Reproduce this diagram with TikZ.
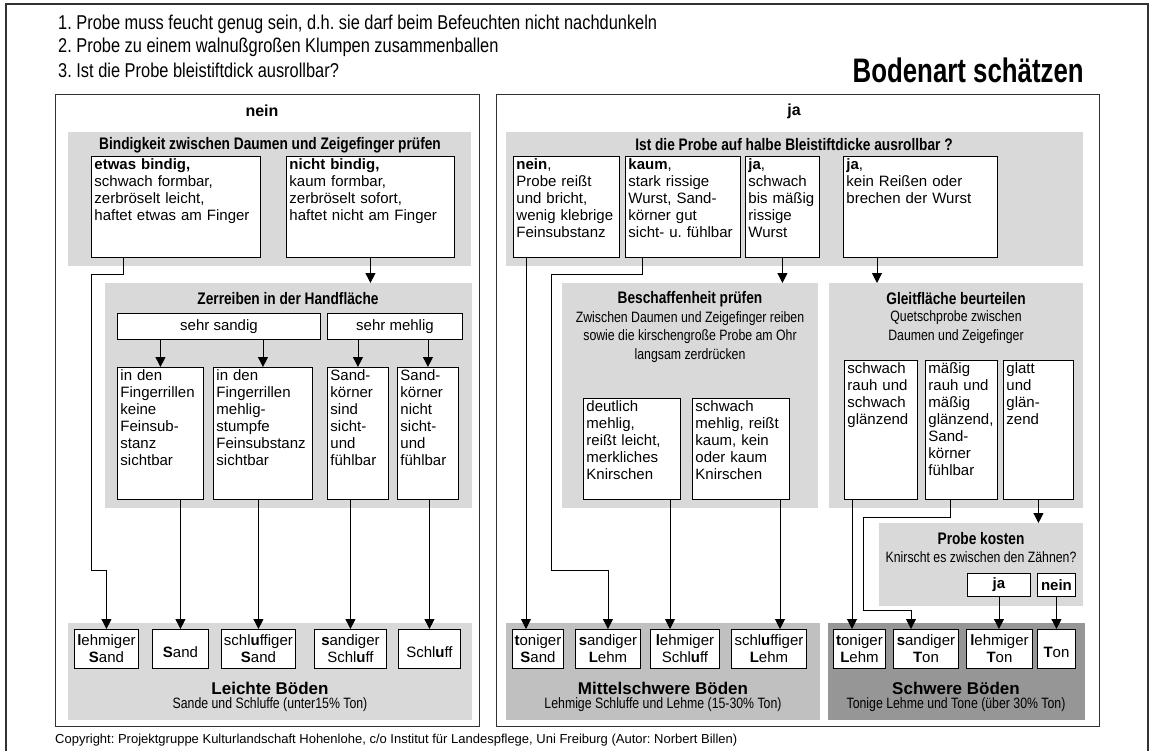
\documentclass[tikz,border=0pt]{standalone}
\usepackage{fontspec}
\setmainfont{Liberation Sans}
\newfontfamily\narrowfont[FakeStretch=0.82]{Liberation Sans}
\newfontfamily\titlefont[FakeStretch=0.76]{Liberation Sans}
\usetikzlibrary{arrows.meta}
\definecolor{bglight}{RGB}{217,217,217}
\definecolor{bgmid}{RGB}{192,192,192}
\definecolor{bgdark}{RGB}{150,150,150}
\definecolor{framegray}{RGB}{50,50,50}

\begin{document}
\frenchspacing
\begin{tikzpicture}[x=1pt, y=-1pt,
  panel/.style={draw=framegray, line width=1.3pt, anchor=north west, inner sep=0pt},
  field/.style={fill=#1, anchor=north west, inner sep=0pt},
  field/.default=bglight,
  tbox/.style={draw, fill=white, line width=0.9pt, anchor=north west, align=left, inner xsep=3pt, inner ysep=2pt, text height=11.5pt, font=\fontsize{15}{17}\selectfont},
  soil/.style={draw, fill=white, line width=0.9pt, anchor=north west, align=center, inner sep=0pt, minimum height=39pt, font=\fontsize{15}{17}\selectfont},
  jnbox/.style={draw, fill=white, line width=0.9pt, anchor=north west, inner sep=0pt, minimum height=26pt, font=\fontsize{15}{17}\selectfont},
  hdtxt/.style={font=\narrowfont\bfseries\fontsize{16.7}{19}\selectfont},
  subtxt/.style={align=center, font=\narrowfont\fontsize{15}{18.5}\selectfont},
  grptitle/.style={font=\bfseries\fontsize{17}{20}\selectfont},
  arr/.style={-{Triangle[width=10pt,length=10pt]}, line width=0.9pt}
]
\useasboundingbox (0,0) rectangle (1153,751);
% Frame and instructions
\draw[framegray, line width=1.3pt] (6,751) -- (6,4) -- (1148,4) -- (1148,751);
\node[anchor=west, inner sep=0pt, font=\narrowfont\fontsize{20}{23}\selectfont] (step1) at (58,24) {1. Probe muss feucht genug sein, d.h. sie darf beim Befeuchten nicht nachdunkeln};
\node[anchor=west, inner sep=0pt, font=\narrowfont\fontsize{20}{23}\selectfont] (step2) at (58,47) {2. Probe zu einem walnußgroßen Klumpen zusammenballen};
\node[anchor=west, inner sep=0pt, font=\narrowfont\fontsize{20}{23}\selectfont] (step3) at (58,70) {3. Ist die Probe bleistiftdick ausrollbar?};
\node[anchor=east, inner sep=0pt, font=\titlefont\bfseries\fontsize{34}{40}\selectfont] (title) at (1084,70) {Bodenart schätzen};

% Panels
\node[panel, minimum width=424pt, minimum height=632pt] (pnlNein) at (55,94) {};
\node[panel, minimum width=603pt, minimum height=632pt] (pnlJa) at (496,94) {};
\node[font=\bfseries\fontsize{16}{18}\selectfont] (hdNein) at (262,111) {nein};
\node[font=\bfseries\fontsize{16}{18}\selectfont] (hdJa) at (794,111) {ja};

% Left: Bindigkeit
\node[field, minimum width=403pt, minimum height=134pt] (bind) at (68,132) {};
\node[hdtxt] (bindT) at (270,145) {Bindigkeit zwischen Daumen und Zeigefinger prüfen};
\node[tbox, text width=163pt, text depth=85.5pt] (etwas) at (91,156) {\textbf{etwas bindig,}\\schwach formbar,\\zerbröselt leicht,\\haftet etwas am Finger};
\node[tbox, text width=162pt, text depth=85.5pt] (nicht) at (286,156) {\textbf{nicht bindig,}\\kaum formbar,\\zerbröselt sofort,\\haftet nicht am Finger};

% Left: Zerreiben
\node[field, minimum width=367pt, minimum height=225pt] (zerr) at (105,283) {};
\node[hdtxt] (zerrT) at (288,299) {Zerreiben in der Handfläche};
\node[jnbox, minimum width=203pt] (sandig) at (117,313) {sehr sandig};
\node[jnbox, minimum width=135pt] (mehlig) at (327,313) {sehr mehlig};
\node[tbox, text width=80pt, text depth=116.5pt] (fk) at (117,367) {in den\\Fingerrillen\\keine\\Feinsub-\\stanz\\sichtbar};
\node[tbox, text width=93pt, text depth=116.5pt] (fm) at (213,367) {in den\\Fingerrillen\\mehlig-\\stumpfe\\Feinsubstanz\\sichtbar};
\node[tbox, text width=55pt, text depth=116.5pt] (sks) at (327,367) {Sand-\\körner\\sind\\sicht-\\und\\fühlbar};
\node[tbox, text width=55pt, text depth=116.5pt] (skn) at (397,367) {Sand-\\körner\\nicht\\sicht-\\und\\fühlbar};

% Left: Leichte Boeden
\node[field, minimum width=404pt, minimum height=97pt] (leicht) at (68,623) {};
\node[soil, minimum width=64pt] (lehmSand) at (74,629) {\textbf{l}ehmiger\\\textbf{S}and};
\node[soil, minimum width=56pt] (sand) at (152,629) {~\\\textbf{S}and};
\node[soil, minimum width=74pt] (schlSand) at (221,629) {schl\textbf{u}ffiger\\\textbf{S}and};
\node[soil, minimum width=72pt] (sandSchl) at (314,629) {\textbf{s}andiger\\Schl\textbf{u}ff};
\node[soil, minimum width=62pt] (schluff) at (398,629) {~\\Schl\textbf{u}ff};
\node[grptitle] (leichtT) at (270,688) {Leichte Böden};
\node[subtxt] (leichtS) at (270,705) {Sande und Schluffe (unter15\% Ton)};

% Right: Ausrollen
\node[field, minimum width=577pt, minimum height=134pt] (roll) at (506,132) {};
\node[hdtxt] (rollT) at (794,145) {Ist die Probe auf halbe Bleistiftdicke ausrollbar ?};
\node[tbox, text width=100pt, text depth=85.5pt] (dNein) at (513,156) {\textbf{nein},\\Probe reißt\\und bricht,\\wenig klebrige\\Feinsubstanz};
\node[tbox, text width=109pt, text depth=85.5pt] (dKaum) at (625,156) {\textbf{kaum},\\stark rissige\\Wurst, Sand-\\körner gut\\sicht- u. fühlbar};
\node[tbox, text width=68pt, text depth=85.5pt] (dJa) at (745,156) {\textbf{ja},\\schwach\\bis mäßig\\rissige\\Wurst};
\node[tbox, text width=148pt, text depth=85.5pt] (dJaKein) at (843,156) {\textbf{ja},\\kein Reißen oder\\brechen der Wurst};

% Right: Beschaffenheit
\node[field, minimum width=256pt, minimum height=225pt] (besch) at (562,283) {};
\node[hdtxt] (beschT) at (690,299) {Beschaffenheit prüfen};
\node[subtxt] (beschS) at (690,337) {Zwischen Daumen und Zeigefinger reiben\\sowie die kirschengroße Probe am Ohr\\langsam zerdrücken};
\node[tbox, text width=91pt, text depth=85.5pt] (eDeut) at (583,398) {deutlich\\mehlig,\\reißt leicht,\\merkliches\\Knirschen};
\node[tbox, text width=91pt, text depth=85.5pt] (eSchw) at (692,398) {schwach\\mehlig, reißt\\kaum, kein\\oder kaum\\Knirschen};

% Right: Gleitflaeche
\node[field, minimum width=254pt, minimum height=225pt] (gleit) at (829,283) {};
\node[hdtxt] (gleitT) at (956,299) {Gleitfläche beurteilen};
\node[subtxt] (gleitS) at (956,327) {Quetschprobe zwischen\\Daumen und Zeigefinger};
\node[tbox, text width=67pt, text depth=123.5pt] (fSchw) at (844,360) {schwach\\rauh und\\schwach\\glänzend};
\node[tbox, text width=66pt, text depth=123.5pt] (fMaes) at (925,360) {mäßig\\rauh und\\mäßig\\glänzend,\\Sand-\\körner\\fühlbar};
\node[tbox, text width=64pt, text depth=123.5pt] (fGlatt) at (1003,360) {glatt\\und\\glän-\\zend};

% Right: Probe kosten
\node[field, minimum width=204pt, minimum height=83pt] (kost) at (879,523) {};
\node[hdtxt] (kostT) at (981,539) {Probe kosten};
\node[subtxt] (kostS) at (981,557) {Knirscht es zwischen den Zähnen?};
\node[jnbox, minimum width=63pt, minimum height=23pt, font=\bfseries\fontsize{15}{17}\selectfont] (kJa) at (967,573) {ja};
\node[jnbox, minimum width=38pt, minimum height=23pt, font=\bfseries\fontsize{15}{17}\selectfont] (kNein) at (1037,573) {nein};

% Right: Mittelschwere und schwere Boeden
\node[field=bgmid, minimum width=314pt, minimum height=97pt] (mittel) at (506,623) {};
\node[field=bgdark, minimum width=257pt, minimum height=97pt] (schwer) at (828,623) {};
\node[soil, minimum width=51pt] (tonSand) at (512,629) {\textbf{t}oniger\\\textbf{S}and};
\node[soil, minimum width=65pt] (sandLehm) at (575,629) {\textbf{s}andiger\\\textbf{L}ehm};
\node[soil, minimum width=69pt] (lehmSchl) at (650,629) {\textbf{l}ehmiger\\Schl\textbf{u}ff};
\node[soil, minimum width=75pt] (schlLehm) at (731,629) {schl\textbf{u}ffiger\\\textbf{L}ehm};
\node[soil, minimum width=52pt] (tonLehm) at (833,629) {\textbf{t}oniger\\\textbf{L}ehm};
\node[soil, minimum width=65pt] (sandTon) at (893,629) {\textbf{s}andiger\\\textbf{T}on};
\node[soil, minimum width=66pt] (lehmTon) at (966,629) {\textbf{l}ehmiger\\\textbf{T}on};
\node[soil, minimum width=38pt] (ton) at (1037,629) {~\\\textbf{T}on};
\node[grptitle] (mittelT) at (663,688) {Mittelschwere Böden};
\node[subtxt] (mittelS) at (663,705) {Lehmige Schluffe und Lehme (15-30\% Ton)};
\node[grptitle] (schwerT) at (956,688) {Schwere Böden};
\node[subtxt] (schwerS) at (956,705) {Tonige Lehme und Tone (über 30\% Ton)};

% Copyright
\node[anchor=west, inner sep=0pt, font=\fontsize{13}{15}\selectfont] (copy) at (55,740) {Copyright: Projektgruppe Kulturlandschaft Hohenlohe, c/o Institut für Landespflege, Uni Freiburg (Autor: Norbert Billen)};

% Exit points
\coordinate (xEtwas) at ([xshift=32pt]etwas.south west);
\coordinate (xNein) at ([xshift=13pt]dNein.south west);
\coordinate (xKaum) at ([xshift=17pt]dKaum.south west);
\coordinate (xJaKein) at ([xshift=34pt]dJaKein.south west);
\coordinate (xDeut) at ([xshift=87pt]eDeut.south west);
\coordinate (xSchw) at ([xshift=88pt]eSchw.south west);
\coordinate (xRauh) at ([xshift=8pt]fSchw.south west);
\coordinate (xMaes) at ([xshift=25pt]fMaes.south west);
\coordinate (inSandTon) at ([xshift=18pt]sandTon.north west);

% Connectors left
\draw[arr] (xEtwas) |- (91,274) |- ([yshift=59pt]lehmSand.north) -- (lehmSand.north);
\draw[arr] (nicht.south) -- (nicht.south |- zerr.north);
\foreach \c in {fk,fm} \draw[arr] (\c.north |- sandig.south) -- (\c.north);
\foreach \c in {sks,skn} \draw[arr] (\c.north |- mehlig.south) -- (\c.north);
\draw[arr] (sand.north |- fk.south) -- (sand.north);
\draw[arr] (schlSand.north |- fm.south) -- (schlSand.north);
\draw[arr] (sandSchl.north |- sks.south) -- (sandSchl.north);
\draw[arr] (schluff.north |- skn.south) -- (schluff.north);

% Connectors right
\draw[arr] (xNein) -- (xNein |- tonSand.north);
\draw[arr] (xKaum) |- (551,274) |- ([yshift=59pt]sandLehm.north) -- (sandLehm.north);
\draw[arr] (dJa.south) -- (dJa.south |- besch.north);
\draw[arr] (xJaKein) -- (xJaKein |- gleit.north);
\draw[arr] (xDeut) -- (xDeut |- lehmSchl.north);
\draw[arr] (xSchw) -- (xSchw |- schlLehm.north);
\draw[arr] (xRauh) -- (xRauh |- tonLehm.north);
\draw[arr] (xMaes) |- (863,517) |- ([yshift=19pt]inSandTon) -- (inSandTon);
\draw[arr] (fGlatt.south) -- (fGlatt.south |- kost.north);
\draw[arr] (kJa.south) -- (kJa.south |- lehmTon.north);
\draw[arr] (kNein.south) -- (kNein.south |- ton.north);
\end{tikzpicture}
\end{document}
